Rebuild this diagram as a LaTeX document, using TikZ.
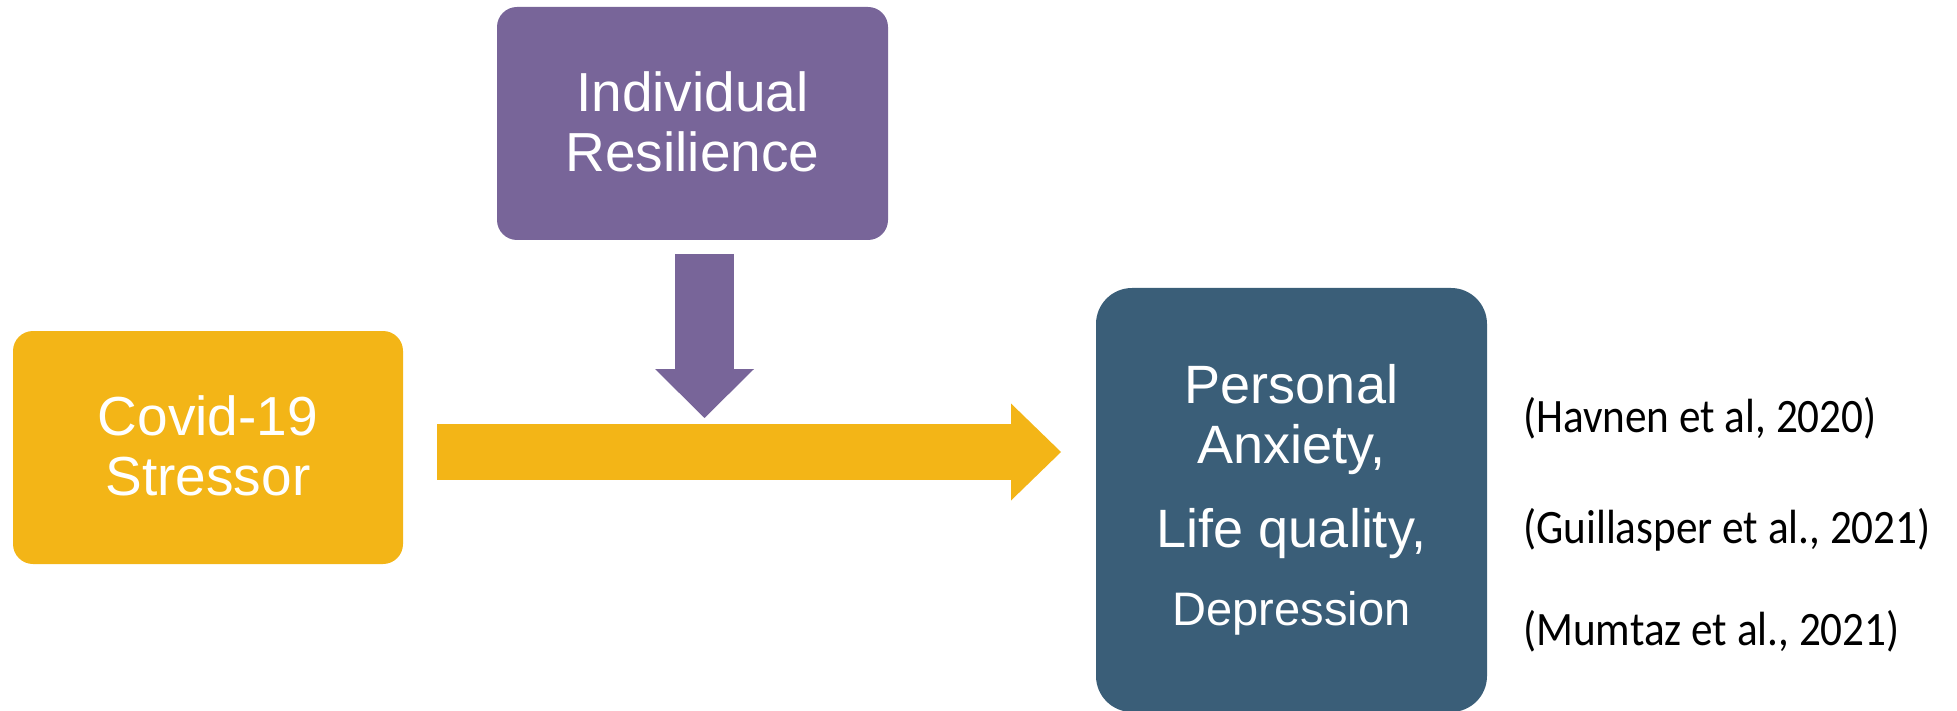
\documentclass[tikz,border=0pt]{standalone}
\usepackage{fontspec}
\setmainfont{Liberation Sans}
\newfontfamily\citefont{Carlito}[FakeStretch=0.9]
\usetikzlibrary{arrows.meta,calc}

\definecolor{stressgold}{HTML}{F3B517}
\definecolor{resilpurple}{HTML}{786599}
\definecolor{outcomeblue}{HTML}{3A5E78}

\tikzset{
  panel/.style={inner sep=0pt, outer sep=0pt, draw=none},
  boxtext/.style={anchor=base, inner sep=0pt, text=white,
                  font=\fontsize{55}{60}\selectfont},
  smalltext/.style={boxtext, font=\fontsize{47}{52}\selectfont},
  citetext/.style={anchor=base west, inner sep=0pt, text=black,
                   font=\citefont\fontsize{48}{52}\selectfont},
  flowarrow/.style={draw=stressgold, line width=56pt, line cap=butt,
    -{Triangle[length=50pt 0 0, width=97pt 0 0, line width=0pt 0 0]}},
  modarrow/.style={draw=resilpurple, line width=59pt, line cap=butt,
    -{Triangle[length=49pt 0 0, width=99pt 0 0, line width=0pt 0 0]}},
}

\begin{document}
\begin{tikzpicture}[x=1pt, y=-1pt]
  \useasboundingbox (0,0) rectangle (1957,711);

  % the three boxes
  \node[panel, fill=stressgold, rounded corners=20pt,
        minimum width=390pt, minimum height=233pt] (cov) at (208,447.5) {};
  \node[panel, fill=resilpurple, rounded corners=20pt,
        minimum width=391pt, minimum height=233pt] (res) at (692.5,123.5) {};
  \node[panel, fill=outcomeblue, rounded corners=36pt,
        minimum width=391pt, minimum height=424pt] (out) at (1291.5,500) {};

  % box labels
  \node[boxtext] (cov1) at (208,435) {Covid-19};
  \node[boxtext] (cov2) at (208,495) {Stressor};
  \node[boxtext] (res1) at (692.5,112) {Individual};
  \node[boxtext] (res2) at (692.5,172) {Resilience};
  \node[boxtext, font=\fontsize{54}{60}\selectfont] (out1) at (1291.5,403) {Personal};
  \node[boxtext, font=\fontsize{54}{60}\selectfont] (out2) at (1291.5,463) {Anxiety,};
  \node[boxtext, font=\fontsize{54}{60}\selectfont] (out3) at (1291.5,547) {Life quality,};
  \node[smalltext] (out4) at (1291.5,625) {Depression};

  % references
  \node[citetext] (ref1) at (1523,432) {(Havnen et al, 2020)};
  \node[citetext] (ref2) at (1523,543) {(Guillasper et al., 2021)};
  \node[citetext] (ref3) at (1523,645) {(Mumtaz et al., 2021)};

  % block arrows
  \draw[flowarrow] ($(cov.east)+(34,4.5)$) -- ($(out.west |- cov.east)+(-35,4.5)$);
  \draw[modarrow] ($(res.south)+(12,14)$) -- ($(res.south)+(12,178)$);
\end{tikzpicture}
\end{document}
